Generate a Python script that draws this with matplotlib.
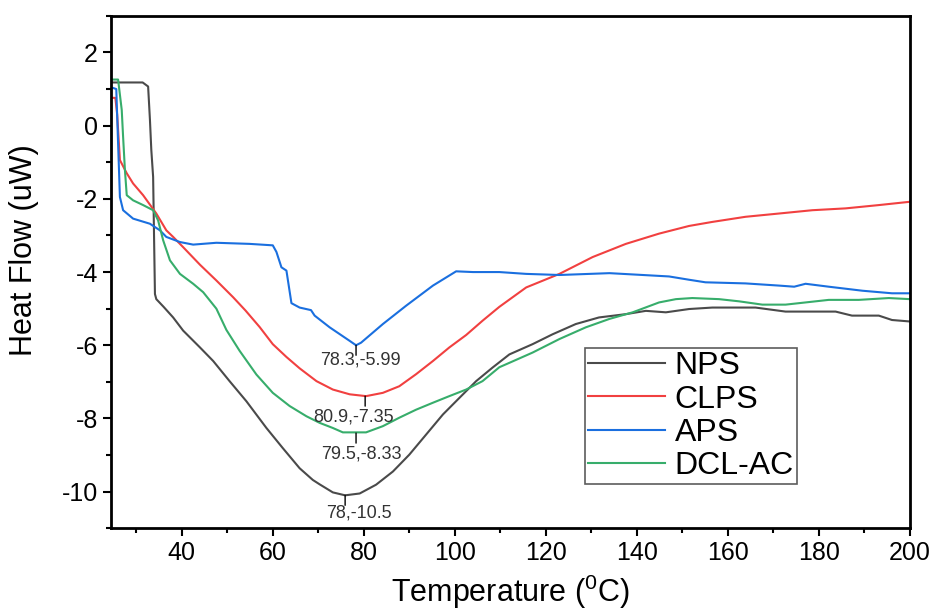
import matplotlib
matplotlib.use('Agg')
import matplotlib.pyplot as plt
from matplotlib.ticker import MultipleLocator

plt.rcParams['font.family'] = ['Liberation Sans', 'DejaVu Sans']
plt.rcParams['mathtext.fontset'] = 'custom'
plt.rcParams['mathtext.rm'] = 'Liberation Sans'
plt.rcParams['axes.unicode_minus'] = False

# Data (temperature in C, heat flow in uW)
nps_t = [24.5, 31.4, 32.6, 33.0, 33.3, 33.7, 34.1, 34.4, 36.0, 38.1, 40.3, 44.0, 46.9, 50.5,
         54.2, 58.6, 62.2, 65.9, 68.8, 70.3, 73.2, 75.9, 79.1, 82.7, 86.4, 90.0, 93.7,
         97.4, 101.0, 104.7, 108.3, 112.0, 117.1, 121.5, 126.6, 131.7, 137.6, 142.0,
         146.4, 151.5, 156.6, 166.1, 172.7, 183.7, 187.3, 193.2, 196.1, 200.0]
nps_h = [1.18, 1.18, 1.07, 0.16, -0.66, -1.4, -4.6, -4.74, -4.95, -5.24, -5.6, -6.06, -6.43,
         -6.98, -7.53, -8.26, -8.81, -9.36, -9.68, -9.80, -10.02, -10.1, -10.05, -9.81,
         -9.45, -8.99, -8.44, -7.89, -7.44, -6.98, -6.61, -6.25, -5.97, -5.70, -5.42,
         -5.24, -5.15, -5.06, -5.10, -5.01, -4.97, -4.97, -5.08, -5.08, -5.19, -5.19,
         -5.31, -5.35]

clps_t = [24.9, 25.4, 25.8, 26.4, 27.9, 29.3, 31.5, 34.4, 36.6, 38.1, 40.3, 44.0, 47.6, 51.3,
          54.0, 57.1, 60.0, 63.0, 65.9, 69.6, 73.2, 76.9, 80.5, 84.2, 87.8, 91.5, 95.2,
          98.8, 102.5, 106.1, 109.8, 115.7, 123.0, 130.3, 137.6, 144.9, 151.5, 156.6,
          163.9, 171.3, 178.6, 185.9, 193.2, 200.0]
clps_h = [0.76, 0.76, 0.3, -0.94, -1.3, -1.58, -1.9, -2.4, -2.86, -3.04, -3.32, -3.8, -4.23,
          -4.69, -5.05, -5.5, -5.97, -6.32, -6.63, -6.98, -7.21, -7.34, -7.39, -7.3, -7.12,
          -6.79, -6.43, -6.06, -5.72, -5.33, -4.95, -4.42, -4.05, -3.59, -3.23, -2.95,
          -2.74, -2.63, -2.49, -2.4, -2.31, -2.26, -2.17, -2.08]

aps_t = [24.9, 25.6, 26.0, 26.4, 27.1, 29.3, 33.0, 35.2, 36.6, 39.6, 42.5, 47.6, 54.9, 60.0,
         60.8, 61.9, 63.0, 64.1, 65.9, 68.4, 69.2, 72.5, 76.9, 78.3, 79.4, 84.2, 89.3,
         95.2, 100.3, 104.0, 109.8, 115.7, 123.0, 134.0, 141.3, 147.1, 151.5, 155.1,
         163.9, 171.3, 174.6, 177.1, 182.2, 189.6, 196.1, 200.0]
aps_h = [1.03, 1.0, -0.48, -1.95, -2.31, -2.54, -2.68, -2.86, -3.04, -3.18, -3.25, -3.2,
         -3.23, -3.27, -3.45, -3.87, -3.96, -4.85, -4.97, -5.04, -5.19, -5.51, -5.88, -6.0,
         -5.93, -5.42, -4.92, -4.37, -3.98, -4.0, -4.0, -4.05, -4.08, -4.03, -4.08, -4.12,
         -4.21, -4.28, -4.31, -4.37, -4.4, -4.32, -4.4, -4.51, -4.58, -4.58]

dcl_t = [24.9, 26.0, 26.8, 27.1, 27.5, 27.9, 29.3, 31.5, 33.7, 34.8, 35.9, 37.4, 39.6, 42.5,
         44.7, 47.6, 49.8, 52.7, 56.4, 60.0, 63.7, 67.4, 70.3, 73.2, 75.4, 80.5, 84.2,
         87.8, 91.5, 95.2, 98.8, 102.5, 106.1, 109.8, 112.0, 117.1, 123.0, 128.8, 134.0,
         139.1, 144.9, 148.6, 152.2, 158.1, 162.5, 167.6, 172.7, 177.1, 182.2, 188.8,
         195.4, 200.0]
dcl_h = [1.26, 1.26, 0.43, -0.3, -1.21, -1.9, -2.04, -2.17, -2.31, -2.59, -3.13, -3.68,
         -4.05, -4.32, -4.55, -5.0, -5.58, -6.15, -6.8, -7.3, -7.66, -7.94, -8.12, -8.26,
         -8.38, -8.38, -8.21, -7.98, -7.76, -7.57, -7.39, -7.21, -6.98, -6.6, -6.48, -6.2,
         -5.83, -5.51, -5.28, -5.1, -4.83, -4.74, -4.71, -4.74, -4.8, -4.89, -4.89, -4.83,
         -4.76, -4.76, -4.71, -4.74]

# Peak labels: where the marker sits on the curve, and the text shown
peak_t = [78.3, 80.3, 78.3, 75.9]
peak_h = [-6.0, -7.39, -8.4, -10.1]
peak_text = ['78.3,-5.99', '80.9,-7.35', '79.5,-8.33', '78,-10.5']
peak_dx = [4, -12, 5, 14]     # text offset (pixels)
peak_dy = [6, 12, 12, 9]

fig = plt.figure(figsize=(9.35, 6.10), dpi=100)
ax = fig.add_axes([0.119, 0.134, 0.854, 0.840])

ax.plot(nps_t, nps_h, color='#4a4a4a', lw=1.5, label='NPS')
ax.plot(clps_t, clps_h, color='#F14040', lw=1.5, label='CLPS')
ax.plot(aps_t, aps_h, color='#1A6FDF', lw=1.5, label='APS')
ax.plot(dcl_t, dcl_h, color='#37AD6B', lw=1.5, label='DCL-AC')

# peak markers
for t, h, s, dx, dy in zip(peak_t, peak_h, peak_text, peak_dx, peak_dy):
    ax.annotate('', xy=(t, h), xytext=(0, -10), textcoords='offset pixels',
                arrowprops=dict(arrowstyle='-', color='black', lw=1, shrinkA=0, shrinkB=0))
    ax.annotate(s, xy=(t, h), xytext=(dx, -dy), textcoords='offset pixels',
                ha='center', va='top', fontsize=13, color='#333333')

ax.set_xlim(24.5, 200)
ax.set_ylim(-11, 3)
ax.xaxis.set_major_locator(MultipleLocator(20))
ax.xaxis.set_minor_locator(MultipleLocator(10))
ax.yaxis.set_major_locator(MultipleLocator(2))
ax.yaxis.set_minor_locator(MultipleLocator(1))
ax.tick_params(which='both', direction='out', width=1.5, labelsize=18, top=False, right=False)
ax.tick_params(which='major', length=6)
ax.tick_params(which='minor', length=3.5)
for sp in ax.spines.values():
    sp.set_linewidth(2)

ax.set_xlabel('Temperature ($\\mathregular{^{0}}$C)', fontsize=22, labelpad=5)
ax.set_ylabel('Heat Flow (uW)', fontsize=22)
ax.yaxis.set_label_coords(-0.09, 0.543)

leg = ax.legend(loc='lower right', bbox_to_anchor=(0.859, 0.086), fontsize=23, frameon=True,
                fancybox=False, edgecolor='#333333', handlelength=2.4, handletextpad=0.3,
                borderpad=0.1, labelspacing=0.1, borderaxespad=0)
leg.get_frame().set_linewidth(1.2)

fig.savefig('out.png', dpi=100)
